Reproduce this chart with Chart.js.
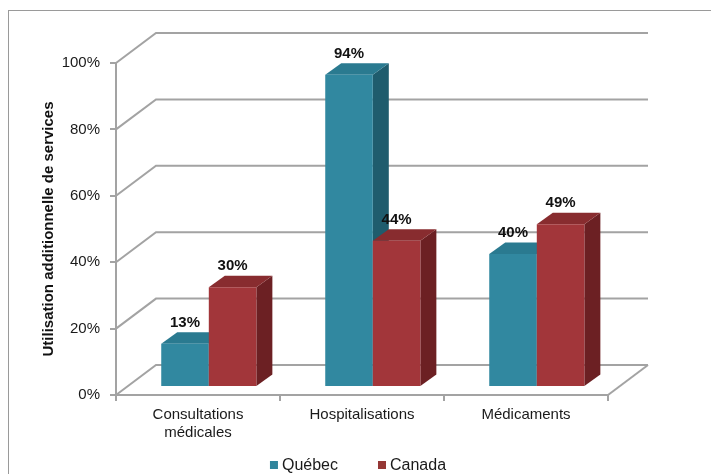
<!DOCTYPE html>
<html><head><meta charset="utf-8">
<script src="https://cdn.jsdelivr.net/npm/chart.js@4.4.0/dist/chart.umd.min.js"></script>
<style>html,body{margin:0;padding:0;background:#fff}#wrap{width:711px;height:474px;position:relative}</style>
</head><body><div id="wrap"><canvas id="c"></canvas></div>
<script>
const categories = [['Consultations', 'médicales'], 'Hospitalisations', 'Médicaments'];
const seriesNames = ['Québec', 'Canada'];
const quebecValues = [13, 94, 40];
const canadaValues = [30, 44, 49];
const yTickValues = [0, 20, 40, 60, 80, 100];
const yTitle = 'Utilisation additionnelle de services';

const FONT = "'Liberation Sans', Arial, Helvetica, sans-serif";
const GRID = '#a3a3a3';
const WALL = {dx: 40, dy: -30};     // depth of the 3D box
const SHIFT = 0.27;                 // bars sit slightly behind the front plane
const BAR_DEPTH = {dx: 16, dy: -11.5};

const palette = {
  'Québec': {front: '#3188a0', side: '#1f5c6d', top: '#2a7a90', legend: '#31859c'},
  'Canada': {front: '#a2363a', side: '#6c2023', top: '#882c2f', legend: '#953735'}
};

const threeD = {
  id: 'threeD',
  beforeDraw(chart) {
    const ctx = chart.ctx;
    ctx.save();
    ctx.fillStyle = '#fff';
    ctx.fillRect(0, 0, chart.width, chart.height);
    ctx.strokeStyle = '#9a9a9a';
    ctx.lineWidth = 1;
    ctx.strokeRect(8.5, 10.5, chart.width + 20, chart.height + 20);
    ctx.restore();
  },
  beforeDatasetsDraw(chart) {
    const {ctx, chartArea: a, scales: {y}} = chart;
    ctx.save();
    ctx.strokeStyle = GRID;
    ctx.lineWidth = 2;
    y.ticks.forEach(t => {
      const py = y.getPixelForValue(t.value);
      ctx.beginPath();
      ctx.moveTo(a.left, py);
      ctx.lineTo(a.left + WALL.dx, py + WALL.dy);
      ctx.lineTo(a.right + WALL.dx, py + WALL.dy);
      ctx.stroke();
    });
    ctx.beginPath();
    ctx.moveTo(a.right, a.bottom);
    ctx.lineTo(a.right + WALL.dx, a.bottom + WALL.dy);
    ctx.stroke();
    ctx.restore();

    ctx.save();
    ctx.translate(WALL.dx * SHIFT, WALL.dy * SHIFT);
    const metas = chart.data.datasets.map((d, i) => chart.getDatasetMeta(i));
    const n = chart.data.labels.length;
    for (let j = 0; j < n; j++) {
      metas.forEach((meta, i) => {
        const el = meta.data[j];
        const col = palette[chart.data.datasets[i].label];
        const {x, y: top, base, width} = el.getProps(['x', 'y', 'base', 'width'], true);
        const l = x - width / 2, r = x + width / 2;
        const dx = BAR_DEPTH.dx, dy = BAR_DEPTH.dy;
        ctx.fillStyle = col.side;
        ctx.beginPath();
        ctx.moveTo(r, top); ctx.lineTo(r + dx, top + dy); ctx.lineTo(r + dx, base + dy); ctx.lineTo(r, base);
        ctx.closePath(); ctx.fill();
        ctx.fillStyle = col.top;
        ctx.beginPath();
        ctx.moveTo(l, top); ctx.lineTo(l + dx, top + dy); ctx.lineTo(r + dx, top + dy); ctx.lineTo(r, top);
        ctx.closePath(); ctx.fill();
        el.draw(ctx, a);
      });
    }
    ctx.restore();
    return false;
  },
  afterDraw(chart) {
    const ctx = chart.ctx;
    ctx.save();
    // data labels
    ctx.font = 'bold 15px ' + FONT;
    ctx.fillStyle = '#111';
    ctx.textAlign = 'center';
    ctx.textBaseline = 'middle';
    chart.data.datasets.forEach((ds, i) => {
      chart.getDatasetMeta(i).data.forEach((el, j) => {
        const px = el.x + WALL.dx * SHIFT;
        const py = el.y + WALL.dy * SHIFT - 21;
        ctx.fillText(ds.data[j] + '%', px, py);
      });
    });
    // legend
    ctx.font = '16px ' + FONT;
    ctx.textAlign = 'left';
    const gap = 40, box = 8, boxGap = 4;
    const widths = chart.data.datasets.map(ds => box + boxGap + ctx.measureText(ds.label).width);
    const total = widths.reduce((s, w) => s + w, 0) + gap * (widths.length - 1);
    let lx = 358 - total / 2;
    const ly = 465;
    chart.data.datasets.forEach((ds, i) => {
      ctx.fillStyle = palette[ds.label].legend;
      ctx.fillRect(lx, ly - 4, box, box);
      ctx.fillStyle = '#1a1a1a';
      ctx.fillText(ds.label, lx + box + boxGap, ly + 1);
      lx += widths[i] + gap;
    });
    ctx.restore();
  }
};

new Chart(document.getElementById('c'), {
  type: 'bar',
  data: {
    labels: categories,
    datasets: [
      {label: seriesNames[0], data: quebecValues, backgroundColor: palette[seriesNames[0]].front},
      {label: seriesNames[1], data: canadaValues, backgroundColor: palette[seriesNames[1]].front}
    ]
  },
  options: {
    responsive: true,
    maintainAspectRatio: false,
    animation: false,
    events: [],
    layout: {padding: {top: 63, right: 103, left: 0, bottom: 0}},
    datasets: {bar: {categoryPercentage: 0.58, barPercentage: 1, borderWidth: 0}},
    plugins: {legend: {display: false}, tooltip: {enabled: false}},
    scales: {
      x: {
        afterFit(s) { s.height = 79; },
        grid: {offset: true, drawOnChartArea: false, drawTicks: true, tickLength: 6, color: GRID, lineWidth: 2},
        border: {display: true, color: GRID, width: 2},
        ticks: {color: '#1a1a1a', font: {family: FONT, size: 15}, padding: 5, maxRotation: 0}
      },
      y: {
        min: 0, max: 100,
        afterFit(s) { s.width = 116; },
        afterBuildTicks(s) { s.ticks = yTickValues.map(v => ({value: v})); },
        grid: {drawOnChartArea: false, drawTicks: true, tickLength: 6, color: GRID, lineWidth: 2},
        border: {display: true, color: GRID, width: 2},
        ticks: {color: '#1a1a1a', font: {family: FONT, size: 15}, padding: 10, callback: v => v + '%'},
        title: {display: true, text: yTitle, color: '#111', font: {family: FONT, size: 15, weight: 'bold'}, padding: {top: 40, bottom: 0}}
      }
    }
  },
  plugins: [threeD]
});
</script>
</body></html>
